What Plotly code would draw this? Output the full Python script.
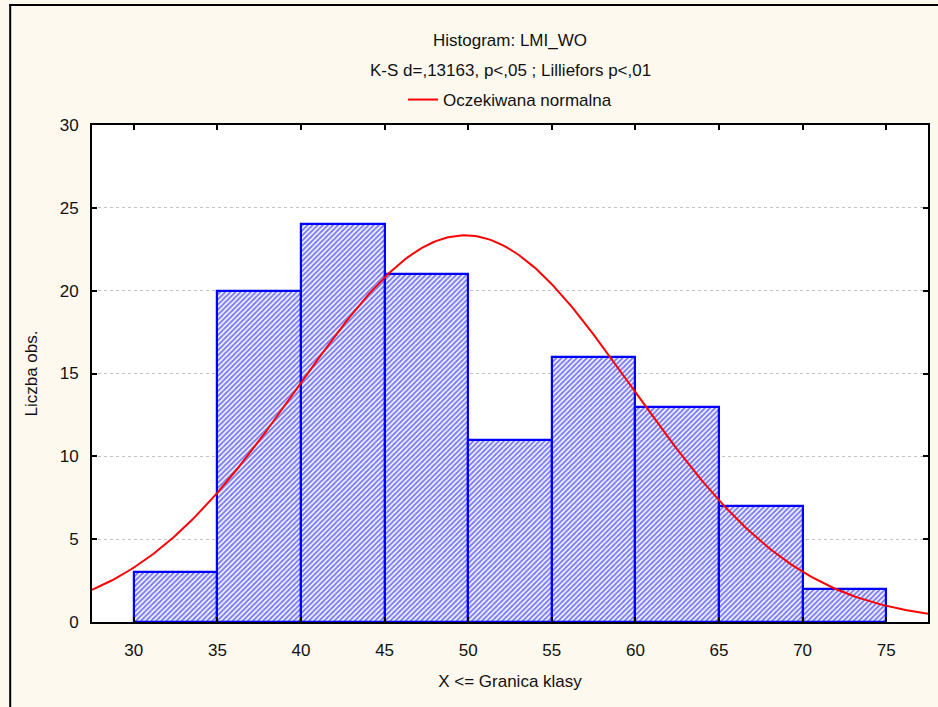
import numpy as np
import plotly.graph_objects as go

# Data
bin_lower = [30, 35, 40, 45, 50, 55, 60, 65, 70]
bin_upper = [35, 40, 45, 50, 55, 60, 65, 70, 75]
counts = [3, 20, 24, 21, 11, 16, 13, 7, 2]
x_ticks = [30, 35, 40, 45, 50, 55, 60, 65, 70, 75]
y_ticks = [0, 5, 10, 15, 20, 25, 30]

# Expected normal parameters (estimated)
norm_mean = 49.8
norm_sd = 10.0
bin_width = 5

centers = [(a + b) / 2 for a, b in zip(bin_lower, bin_upper)]
n_total = sum(counts)
xs = np.linspace(27.5, 77.5, 300)
ys = n_total * bin_width / (norm_sd * np.sqrt(2 * np.pi)) * np.exp(-0.5 * ((xs - norm_mean) / norm_sd) ** 2)

FONT = "Liberation Sans, Arial, sans-serif"
BG = "#FDF9EE"
FS = 17

fig = go.Figure()
fig.add_trace(go.Bar(
    x=centers, y=counts, width=[bin_width] * len(counts),
    marker=dict(color="white",
                line=dict(color="#0000FF", width=2.2),
                pattern=dict(shape="/", fgcolor="#0000EE", bgcolor="white", size=3.6, solidity=0.58)),
    showlegend=False, hoverinfo="x+y",
))
fig.add_trace(go.Scatter(
    x=xs, y=ys, mode="lines", line=dict(color="#FF0000", width=2),
    name="Oczekiwana normalna", showlegend=True,
))

L, R, T, B = 92, 8, 125, 85
W, H = 938, 707
pw = W - L - R
ph = H - T - B

def py(ypix):
    return 1 + (T - ypix) / ph

def px(xpix):
    return (xpix - L) / pw

fig.update_layout(
    width=W, height=H,
    margin=dict(l=L, r=R, t=T, b=B),
    paper_bgcolor=BG, plot_bgcolor="white",
    font=dict(family=FONT, size=FS, color="#111"),
    bargap=0,
    legend=dict(orientation="h", x=0.5, xanchor="center", y=py(100), yanchor="middle",
                bgcolor="rgba(0,0,0,0)", font=dict(size=FS, family=FONT), itemwidth=30),
    annotations=[
        dict(text="Histogram: LMI_WO", x=0.5, y=py(40), xref="paper", yref="paper",
             showarrow=False, font=dict(size=FS, family=FONT), yanchor="middle"),
        dict(text="K-S d=,13163, p<,05 ; Lilliefors p<,01", x=0.5, y=py(70), xref="paper", yref="paper",
             showarrow=False, font=dict(size=FS, family=FONT), yanchor="middle"),
    ],
    shapes=[
        dict(type="line", xref="paper", yref="paper", x0=px(10), x1=px(10), y0=py(4), y1=py(720),
             line=dict(color="black", width=2)),
        dict(type="line", xref="paper", yref="paper", x0=px(9), x1=px(950), y0=py(5), y1=py(5),
             line=dict(color="black", width=2)),
    ],
)
fig.update_xaxes(
    range=[27.5, 77.5], tickvals=x_ticks, ticktext=[str(v) for v in x_ticks],
    ticks="inside", ticklen=5, tickcolor="black", tickwidth=1.5,
    showline=True, linecolor="black", linewidth=2, mirror="ticks",
    showgrid=False, zeroline=False,
    ticklabelstandoff=12,
    title=dict(text="X <= Granica klasy", font=dict(size=FS, family=FONT), standoff=16),
)
fig.update_yaxes(
    range=[0, 30], tickvals=y_ticks, ticktext=[str(v) for v in y_ticks],
    ticks="inside", ticklen=5, tickcolor="black", tickwidth=1.5,
    showline=True, linecolor="black", linewidth=2, mirror="ticks",
    showgrid=True, gridcolor="#C4C4C4", griddash="3px,3px", gridwidth=1,
    zeroline=False,
    ticklabelstandoff=8,
    title=dict(text="Liczba obs.", font=dict(size=FS, family=FONT), standoff=18),
)

fig.write_html("out.html")
